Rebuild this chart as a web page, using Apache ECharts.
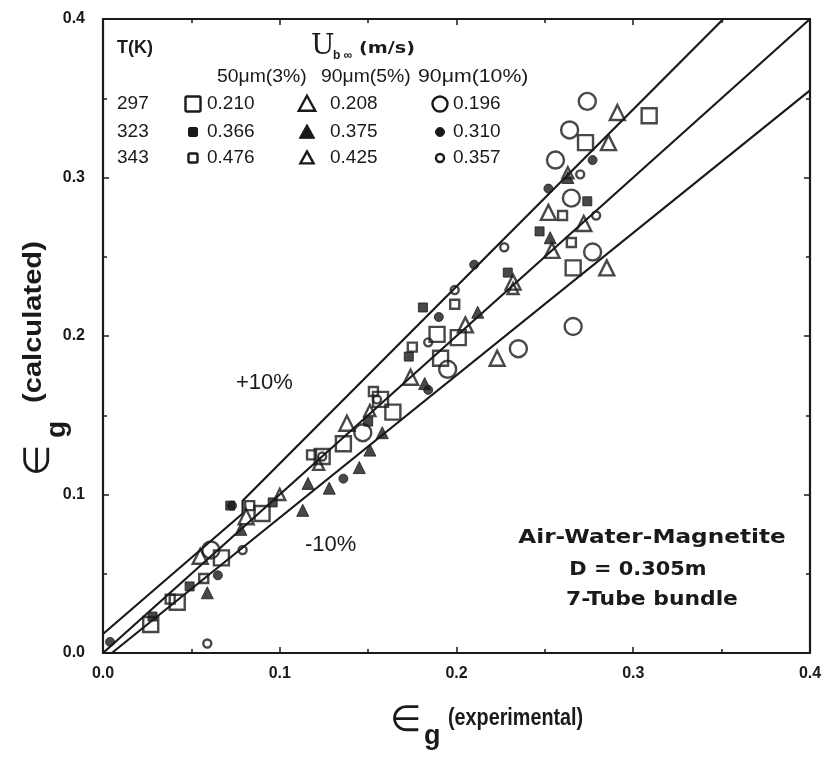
<!DOCTYPE html>
<html><head><meta charset="utf-8">
<script src="https://cdn.jsdelivr.net/npm/echarts@6/dist/echarts.min.js"></script>
<style>html,body{margin:0;padding:0;background:#fff}#c{width:834px;height:758px}</style>
</head><body><div id="c"></div>
<script>
// axis ticks
const tickValues = [0, 0.1, 0.2, 0.3, 0.4];
// reference lines (+10%, 0, -10%)
const linePlus10 = [[0, 0.012], [0.079, 0.088], [0.079, 0.096], [0.351, 0.4]];
const lineEqual = [[0, 0], [0.4, 0.4]];
const lineMinus10 = [[0.005, 0], [0.4, 0.355]];

// 50um (3%) squares
const sq297 = [[0.309,0.339],[0.273,0.322],[0.266,0.243],[0.189,0.201],[0.201,0.199],[0.191,0.186],[0.164,0.152],[0.136,0.132],[0.124,0.124],[0.067,0.060],[0.042,0.032],[0.027,0.018],[0.090,0.088],[0.157,0.160]];
const sq323 = [[0.274,0.285],[0.247,0.266],[0.229,0.240],[0.181,0.218],[0.173,0.187],[0.072,0.093],[0.049,0.042],[0.028,0.023],[0.096,0.095],[0.150,0.146]];
const sq343 = [[0.260,0.276],[0.265,0.259],[0.199,0.220],[0.175,0.193],[0.153,0.165],[0.057,0.047],[0.118,0.125],[0.083,0.093],[0.038,0.034]];
// 90um (5%) triangles
const tr297 = [[0.291,0.341],[0.286,0.322],[0.252,0.278],[0.272,0.271],[0.254,0.254],[0.285,0.243],[0.223,0.186],[0.232,0.234],[0.205,0.207],[0.174,0.174],[0.138,0.145],[0.055,0.061],[0.081,0.086]];
const tr323 = [[0.253,0.262],[0.212,0.215],[0.182,0.170],[0.158,0.139],[0.151,0.128],[0.145,0.117],[0.128,0.104],[0.116,0.107],[0.113,0.090],[0.059,0.038],[0.078,0.078],[0.263,0.300]];
const tr343 = [[0.263,0.303],[0.151,0.153],[0.122,0.119],[0.100,0.100],[0.232,0.230]];
// 90um (10%) circles
const ci297 = [[0.274,0.348],[0.264,0.330],[0.256,0.311],[0.265,0.287],[0.277,0.253],[0.266,0.206],[0.235,0.192],[0.195,0.179],[0.147,0.139],[0.061,0.065]];
const ci323 = [[0.277,0.311],[0.252,0.293],[0.210,0.245],[0.190,0.212],[0.184,0.166],[0.136,0.110],[0.073,0.093],[0.065,0.049],[0.004,0.007]];
const ci343 = [[0.270,0.302],[0.279,0.276],[0.227,0.256],[0.199,0.229],[0.184,0.196],[0.079,0.065],[0.059,0.006],[0.124,0.124],[0.155,0.160]];

// legend table texts
const tempLabels = ['297', '323', '343'];
const colHeaders = ['50μm(3%)', '90μm(5%)', '90μm(10%)'];
const ubValues = [['0.210', '0.208', '0.196'], ['0.366', '0.375', '0.310'], ['0.476', '0.425', '0.357']];

const INK = '#1a1a1a';
const FONT = 'Liberation Sans, Arial, sans-serif';
const chart = echarts.init(document.getElementById('c'));

function lineSeries(data) {
  return {type: 'line', data, showSymbol: false, symbol: 'none', silent: true,
    lineStyle: {color: INK, width: 2.2}, z: 2, animation: false};
}
function scat(data, symbol, size, filled) {
  return {type: 'scatter', data, symbol, symbolSize: size, z: 3, animation: false,
    itemStyle: filled ? {color: INK, borderColor: INK, borderWidth: 1}
                      : {color: 'rgba(255,255,255,0)', borderColor: INK, borderWidth: 2.4}};
}

// legend graphics
const rowsY = [104, 132, 158];
const markX = [193, 307, 440];
const valX = [207, 330, 453];
const g = [];
const txt = (x, y, s, size, weight, fam, extra) => Object.assign({type: 'text', x, y,
  style: {text: s, font: (weight || 'normal') + ' ' + size + 'px ' + (fam || FONT), fill: INK, textVerticalAlign: 'middle'}}, extra || {});
g.push(txt(117, 48, 'T(K)', 18, 'bold'));
g.push(txt(311, 47, 'U', 28, 'normal', 'DejaVu Serif, serif'));
g.push(txt(333, 56, 'b ∞', 12, 'bold'));
g.push(txt(359, 49, '(m/s)', 16, 'bold', 'DejaVu Sans, sans-serif', {scaleX: 1.2}));
const hdrX = [217, 321, 418];
colHeaders.forEach((h, i) => g.push(txt(hdrX[i], 77, h, 19, 'normal', FONT, {scaleX: i === 2 ? 1.12 : 1.02})));
function legendMarker(col, row, cx, cy) {
  const filled = row === 1;
  const big = row === 0;
  const st = filled ? {fill: INK, stroke: INK, lineWidth: 1} : {fill: 'none', stroke: INK, lineWidth: 2.4};
  if (col === 0) {
    const s = big ? 15 : 9;
    return {type: 'rect', shape: {x: cx - s / 2, y: cy - s / 2, width: s, height: s, r: 1.5}, style: st};
  } else if (col === 1) {
    const s = big ? 15 : (filled ? 14 : 12);
    return {type: 'polygon', shape: {points: [[cx, cy - s * 0.55], [cx + s * 0.55, cy + s * 0.45], [cx - s * 0.55, cy + s * 0.45]]}, style: st};
  }
  const r = big ? 7.5 : (filled ? 4.5 : 4);
  return {type: 'circle', shape: {cx, cy, r}, style: st};
}
tempLabels.forEach((t, r) => {
  g.push(txt(117, rowsY[r], t, 19, 'normal'));
  for (let c = 0; c < 3; c++) {
    g.push(legendMarker(c, r, markX[c], rowsY[r]));
    g.push(txt(valX[c], rowsY[r], ubValues[r][c], 19, 'normal'));
  }
});
// annotations
g.push(txt(236, 383, '+10%', 22, 'normal'));
g.push(txt(305, 545, '-10%', 22, 'normal'));
const noteFont = 'bold 19px DejaVu Sans, sans-serif';
const note = (x, y, s, sx) => ({type: 'text', x, y, scaleX: sx, originX: 0, originY: 0,
  style: {text: s, font: noteFont, fill: INK, textAlign: 'center', textVerticalAlign: 'middle'}});
g.push(note(652, 538, 'Air-Water-Magnetite', 1.22));
g.push(note(638, 570, 'D = 0.305m', 1.1));
g.push(note(652, 600, '7-Tube bundle', 1.15));
// axis titles
g.push({type: 'text', x: 390, y: 722, style: {text: '∈', font: '36px DejaVu Sans, sans-serif', fill: INK, textVerticalAlign: 'middle'}});
g.push({type: 'text', x: 424, y: 737, style: {text: 'g', font: 'bold 27px ' + FONT, fill: INK, textVerticalAlign: 'middle'}});
g.push({type: 'text', x: 448, y: 719, scaleX: 0.86, style: {text: '(experimental)', font: 'bold 23px ' + FONT, fill: INK, textVerticalAlign: 'middle'}});
g.push({type: 'group', x: 0, y: 0, children: [
  {type: 'text', x: 40, y: 476, rotation: Math.PI / 2, style: {text: '∈', font: '36px DejaVu Sans, sans-serif', fill: INK, textVerticalAlign: 'middle'}},
  {type: 'text', x: 57, y: 438, rotation: Math.PI / 2, style: {text: 'g', font: 'bold 28px ' + FONT, fill: INK, textVerticalAlign: 'middle'}},
  {type: 'text', x: 34, y: 403, rotation: Math.PI / 2, scaleX: 1.12, style: {text: '(calculated)', font: 'bold 26px ' + FONT, fill: INK, textVerticalAlign: 'middle'}}
]});

const axisBase = {
  type: 'value', min: 0, max: 0.4, interval: 0.1,
  axisLine: {show: true, onZero: false, lineStyle: {color: INK, width: 2.2}},
  axisTick: {show: true, inside: true, length: 6, lineStyle: {color: INK, width: 1.5}},
  minorTick: {show: true, splitNumber: 2, length: 4, lineStyle: {color: INK, width: 1.5}},
  splitLine: {show: false}
};
const lbl = {show: true, fontFamily: FONT, fontWeight: 'bold', fontSize: 16, color: INK, formatter: v => v.toFixed(1)};
chart.setOption({
  animation: false,
  backgroundColor: '#fff',
  grid: {left: 103, right: 24, top: 19, bottom: 105},
  xAxis: [
    Object.assign({}, axisBase, {position: 'bottom', axisLabel: Object.assign({}, lbl, {margin: 13})}),
    Object.assign({}, axisBase, {position: 'top', axisLabel: {show: false}})
  ],
  yAxis: [
    Object.assign({}, axisBase, {position: 'left', axisLabel: Object.assign({}, lbl, {margin: 18})}),
    Object.assign({}, axisBase, {position: 'right', axisLabel: {show: false}})
  ],
  series: [
    lineSeries(linePlus10), lineSeries(lineEqual), lineSeries(lineMinus10),
    scat(sq297, 'rect', 15, false), scat(sq323, 'rect', 9, true), scat(sq343, 'rect', 9, false),
    scat(tr297, 'triangle', 15, false), scat(tr323, 'triangle', 12, true), scat(tr343, 'triangle', 11, false),
    scat(ci297, 'circle', 17, false), scat(ci323, 'circle', 9, true), scat(ci343, 'circle', 8, false)
  ],
  graphic: g
});
</script></body></html>
